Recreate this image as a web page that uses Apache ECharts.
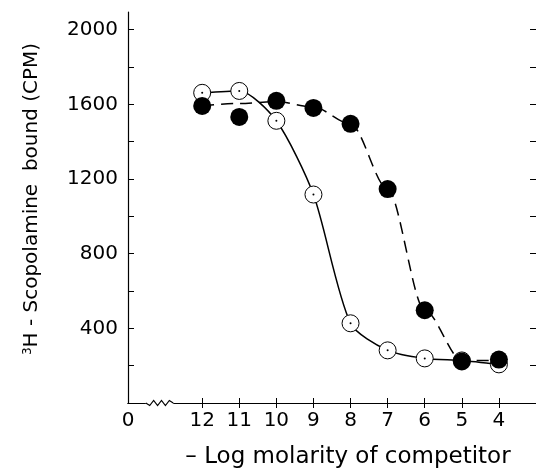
<!DOCTYPE html>
<html>
<head lang="en">
	<meta charset="UTF-8">
	<title></title>
	<script type="text/javascript" src="https://cdn.jsdelivr.net/npm/echarts@6.0.0/dist/echarts.min.js"></script>
	<style>
		html, body { margin: 0; padding: 0; background: #fff; }
		#chart { width: 536px; height: 469px; }
	</style>
</head>
<body>
<div id="chart"></div>
<script>
// -log molarity, position 14 stands for the "0" label left of the break
var xValues = [12, 11, 10, 9, 8, 7, 6, 5, 4];
var openVals = [1662, 1672, 1512, 1117, 427, 282, 239, 228, 207];
var filledVals = [1592, 1533, 1619, 1581, 1496, 1146, 497, 223, 233];
// dashed fitted curve
var filledFit = [1592, 1605, 1615, 1585, 1496, 1146, 497, 228, 228];
var xTickVals = [12, 11, 10, 9, 8, 7, 6, 5, 4];
var xLabelVals = [14, 12, 11, 10, 9, 8, 7, 6, 5, 4];
var yTickVals = [200, 400, 600, 800, 1000, 1200, 1400, 1600, 1800, 2000];
var yLabelVals = [400, 800, 1200, 1600, 2000];

function pairs(xs, ys) {
	var out = [];
	for (var i = 0; i < xs.length; i++) {
		out.push([xs[i], ys[i]]);
	}
	return out;
}

var font = '"DejaVu Sans", sans-serif';
var ink = '#000';

var myChart = echarts.init(document.getElementById('chart'));
var option = {
	animation: false,
	backgroundColor: '#fff',
	grid: { left: 128, right: 0, top: 12, bottom: 66 },
	xAxis: [
		{
			type: 'value', inverse: true, min: 3, max: 14, position: 'bottom',
			splitLine: { show: false },
			axisLine: { show: true, lineStyle: { color: ink, width: 1.2 } },
			axisTick: { inside: true, length: 5, customValues: xTickVals, lineStyle: { color: ink } },
			axisLabel: {
				customValues: xLabelVals, margin: 8, color: ink,
				fontFamily: font, fontSize: 20,
				formatter: function (v) { return v === 14 ? '0' : String(v); }
			}
		},
		{
			type: 'value', inverse: true, min: 3, max: 14, position: 'top',
			splitLine: { show: false },
			axisLine: { show: true, lineStyle: { color: ink, width: 1.2 } },
			axisTick: { inside: true, length: 5, customValues: xTickVals, lineStyle: { color: ink } },
			axisLabel: { show: false }
		}
	],
	yAxis: [
		{
			type: 'value', min: 0, max: 2095, position: 'left',
			splitLine: { show: false },
			axisLine: { show: true, lineStyle: { color: ink, width: 1.2 } },
			axisTick: { inside: true, length: 6, customValues: yTickVals, lineStyle: { color: ink } },
			axisLabel: {
				customValues: yLabelVals, margin: 10, color: ink,
				fontFamily: font, fontSize: 20,
				padding: [0, 0, 10, 0],
				formatter: function (v) { return String(v); }
			}
		},
		{
			type: 'value', min: 0, max: 2095, position: 'right',
			splitLine: { show: false },
			axisLine: { show: false },
			axisTick: { show: true, inside: true, length: 6, customValues: yTickVals, lineStyle: { color: ink } },
			axisLabel: { show: false }
		}
	],
	series: [
		{
			name: 'fitFilled', type: 'line', data: pairs(xValues, filledFit),
			smooth: 0.3, smoothMonotone: 'x', showSymbol: false, silent: true, z: 2,
			lineStyle: { color: ink, width: 1.5, type: [12, 7] }
		},
		{
			name: 'fitOpen', type: 'line', data: pairs(xValues, openVals),
			smooth: 0.25, showSymbol: false, silent: true, z: 2,
			lineStyle: { color: ink, width: 1.5 }
		},
		{
			name: 'open', type: 'scatter', data: pairs(xValues, openVals),
			symbol: 'circle', symbolSize: 17, z: 3,
			itemStyle: { color: '#fff', borderColor: ink, borderWidth: 1, opacity: 1 }
		},
		{
			name: 'openDot', type: 'scatter', data: pairs(xValues, openVals),
			symbol: 'circle', symbolSize: 2, z: 4,
			itemStyle: { color: ink, opacity: 1 }
		},
		{
			name: 'filled', type: 'scatter', data: pairs(xValues, filledVals),
			symbol: 'circle', symbolSize: 18, z: 5,
			itemStyle: { color: '#000', opacity: 1 }
		}
	]
};
myChart.setOption(option);

// axis break squiggle and axis titles
var p0 = myChart.convertToPixel({ xAxisIndex: 0, yAxisIndex: 0 }, [13.52, 0]);
var p1 = myChart.convertToPixel({ xAxisIndex: 0, yAxisIndex: 0 }, [12.78, 0]);
var zig = [];
var steps = 7;
for (var i = 0; i <= steps; i++) {
	var dy = (i === 0 || i === steps) ? 0 : (i % 2 ? 2.5 : -2.5);
	zig.push([p0[0] + (p1[0] - p0[0]) * i / steps, p0[1] + dy]);
}
myChart.setOption({
	graphic: [
		{ type: 'rect', shape: { x: p0[0], y: p0[1] - 2, width: p1[0] - p0[0], height: 4 }, style: { fill: '#fff' }, z: 10 },
		{ type: 'polyline', shape: { points: zig }, style: { stroke: ink, lineWidth: 1.2, fill: null }, z: 11 },
		{
			type: 'text', x: 348, y: 457, z: 11,
			style: {
				text: '\u2013 Log molarity of competitor', fill: ink,
				font: '23px "DejaVu Sans", sans-serif',
				align: 'center', verticalAlign: 'middle'
			}
		},
		{
			type: 'text', x: 32, y: 199, rotation: Math.PI / 2, z: 11,
			style: {
				text: '{s|3}H - Scopolamine  bound (CPM)', fill: ink,
				font: '20px "DejaVu Sans", sans-serif',
				align: 'center', verticalAlign: 'middle',
				rich: { s: { fontSize: 12, verticalAlign: 'top', padding: [0, 0, 8, 0], fontFamily: 'DejaVu Sans' } }
			}
		}
	]
});
</script>
</body>
</html>
